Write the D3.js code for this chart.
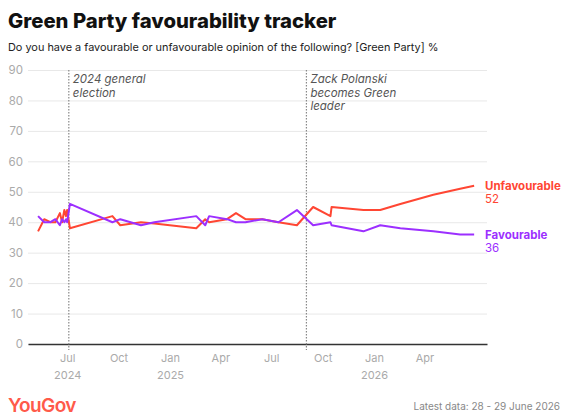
<!doctype html>
<html lang="en">
  <head>
    <meta charset="utf-8">
    <title>Green Party favourability tracker</title>
    <script src="https://d3js.org/d3.v7.min.js"></script>
    <style>
    body { margin: 0; background: #fff; }
    text { font-family: Inter, "Noto Sans", sans-serif; }
    .grid line { stroke: #e8e8e8; }
    .tick text { fill: #aaa; font-size: 11px; }
    </style>
  </head>

  <body>
    <svg width="567" height="420"></svg>

    <script>
      // poll dates and values (%)
      var dates = [
        '2024-05-10', '2024-05-21', '2024-06-01', '2024-06-10', '2024-06-18', '2024-06-22',
        '2024-06-26', '2024-06-29', '2024-07-01', '2024-07-06', '2024-09-20', '2024-10-04',
        '2024-11-10', '2024-12-04', '2025-02-17', '2025-03-05', '2025-03-12', '2025-04-13',
        '2025-04-29', '2025-05-16', '2025-06-15', '2025-07-14', '2025-08-16', '2025-09-14',
        '2025-10-15', '2025-10-17', '2025-12-13', '2026-01-12', '2026-02-17', '2026-04-17',
        '2026-06-04', '2026-06-29'
      ];
      var unfavourable = [37, 41, 40, 40, 43, 40, 44, 42, 44, 38, 42, 39,
                          40, 39.6, 38, 41, 40, 41, 43, 41, 41, 40, 39, 45,
                          42, 45, 44, 44, 46, 49, 51, 52];
      var favourable = [42, 40, 40, 41, 39, 41, 40, 41, 40, 46, 40, 41,
                        39, 40, 42, 39, 42, 41, 40, 40, 41, 40, 44, 39,
                        40, 39, 37, 39, 38, 37, 36, 36];

      var yTicks = [0, 10, 20, 30, 40, 50, 60, 70, 80, 90];
      var xTicks = ['2024-07-01', '2024-10-01', '2025-01-01', '2025-04-01', '2025-07-01',
                    '2025-10-01', '2026-01-01', '2026-04-01'];
      var events = [
        { date: '2024-07-04', lines: ['2024 general', 'election'] },
        { date: '2025-09-02', lines: ['Zack Polanski', 'becomes Green', 'leader'] }
      ];

      var red = '#ff4633', purple = '#9c2fff';
      var parse = d3.timeParse('%Y-%m-%d');
      var svg = d3.select('svg');

      var x = d3.scaleTime()
        .domain([parse('2024-04-22'), parse('2026-07-22')])
        .range([28, 487]);
      var y = d3.scaleLinear().domain([0, 90]).range([344, 70]);

      // titles
      svg.append('text').attr('x', 8).attr('y', 28)
        .style('font-size', '20.3px').style('font-weight', 800).attr('fill', '#111')
        .text('Green Party favourability tracker');
      svg.append('text').attr('x', 8).attr('y', 51)
        .style('font-size', '10.9px').attr('fill', '#222')
        .text('Do you have a favourable or unfavourable opinion of the following? [Green Party] %');

      // grid + y labels
      var yAxis = svg.append('g').attr('class', 'grid')
        .attr('transform', 'translate(28,0)')
        .call(d3.axisLeft(y).tickValues(yTicks).tickSize(-459).tickPadding(5));
      yAxis.select('.domain').remove();
      yAxis.selectAll('.tick text').style('font-size', '11.5px').attr('fill', '#bbb');

      // x axis
      var xAxis = svg.append('g')
        .attr('transform', 'translate(0,344)')
        .call(d3.axisBottom(x).tickValues(xTicks.map(parse)).tickSize(0).tickPadding(10)
          .tickFormat(d3.timeFormat('%b')));
      xAxis.select('.domain').attr('stroke', '#333').attr('stroke-width', 1.3);
      xAxis.selectAll('.tick text').attr('fill', '#999');
      xAxis.selectAll('.tick')
        .filter(function(d){ return d.getMonth() === 0 || (d.getMonth() === 6 && d.getFullYear() === 2024); })
        .append('text')
          .attr('y', 27).attr('dy', '0.71em').attr('fill', '#999').style('font-size', '11px')
          .text(function(d){ return d.getFullYear(); });

      // event markers
      events.forEach(function(e){
        var ex = x(parse(e.date));
        svg.append('line')
          .attr('x1', ex).attr('x2', ex).attr('y1', 70).attr('y2', 350)
          .attr('stroke', '#888').attr('stroke-width', 1.2).attr('stroke-dasharray', '1.5,1.5');
        svg.append('text')
          .attr('x', ex + 4).attr('y', 83)
          .style('font-size', '11.5px').style('font-style', 'italic').attr('fill', '#555')
          .selectAll('tspan').data(e.lines).enter().append('tspan')
            .attr('x', ex + 4).attr('dy', function(d, i){ return i ? 13.5 : 0; })
            .text(function(d){ return d; });
      });

      // lines
      var line = d3.line()
        .x(function(d){ return x(parse(d[0])); })
        .y(function(d){ return y(d[1]); });

      [[unfavourable, red], [favourable, purple]].forEach(function(s){
        svg.append('path')
          .datum(dates.map(function(d, i){ return [d, s[0][i]]; }))
          .attr('fill', 'none').attr('stroke', s[1]).attr('stroke-width', 2)
          .attr('stroke-linejoin', 'round')
          .attr('d', line);
      });

      // end labels
      var labels = [['Unfavourable', unfavourable, red, 190], ['Favourable', favourable, purple, 239]];
      labels.forEach(function(l){
        svg.append('text').attr('x', 485).attr('y', l[3])
          .style('font-size', '11.5px').style('font-weight', 700).attr('fill', l[2])
          .text(l[0]);
        svg.append('text').attr('x', 485).attr('y', l[3] + 13)
          .style('font-size', '11.5px').attr('fill', l[2])
          .text(l[1][l[1].length - 1]);
      });

      // footer
      svg.append('text').attr('x', 8).attr('y', 412)
        .style('font-size', '19px').style('font-weight', 600).style('letter-spacing', '-0.6px')
        .attr('fill', '#ff5a4a').text('YouGov');
      svg.append('text').attr('x', 560).attr('y', 410).attr('text-anchor', 'end')
        .style('font-size', '10px').attr('fill', '#888')
        .text('Latest data: 28 - 29 June 2026');
    </script>
  </body>
</html>
